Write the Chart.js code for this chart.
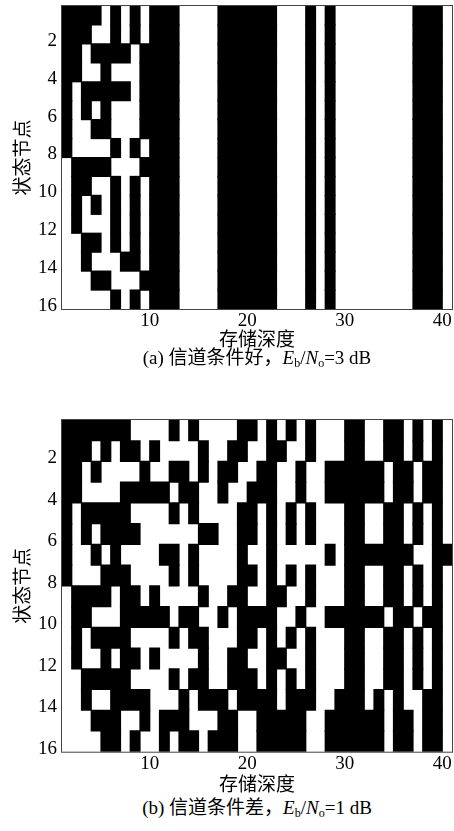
<!DOCTYPE html>
<html>
<head>
<meta charset="utf-8">
<script src="https://cdn.jsdelivr.net/npm/chart.js@4.4.0/dist/chart.umd.min.js"></script>
<style>
  body { margin: 0; background: #fff; width: 454px; height: 831px; position: relative; overflow: hidden; }
  canvas { position: absolute; left: 0; }
  .cap {
    position: absolute; left: 257px; transform: translateX(-50%);
    white-space: nowrap; font-family: "Liberation Serif", "Noto Sans CJK SC", serif;
    font-size: 19px; line-height: 22px; color: #000;
  }
  .cap sub { font-size: 12px; vertical-align: -3px; font-style: normal; }
</style>
</head>
<body>
<canvas id="good" width="454" height="350" style="top:0"></canvas>
<canvas id="bad" width="454" height="385" style="top:410px"></canvas>
<div class="cap" style="top:347px">(a) 信道条件好，<i>E</i><sub>b</sub>/<i>N</i><sub>o</sub>=3 dB</div>
<div class="cap" style="top:797px">(b) 信道条件差，<i>E</i><sub>b</sub>/<i>N</i><sub>o</sub>=1 dB</div>
<script>
// tick labels
const depthTicks = [10, 20, 30, 40];
const stateTicks = [2, 4, 6, 8, 10, 12, 14, 16];

// survivor path memory, one string per state node, 40 depths (1 = black)
const goodChannel = [
  "1111010101 1100001111 1100010100 0000001110",
  "1110010101 1100001111 1100010100 0000001110",
  "1101111011 1100001111 1100010100 0000001110",
  "1100100011 1100001111 1100010100 0000001110",
  "1011111011 1100001111 1100010100 0000001110",
  "1010100011 1100001111 1100010100 0000001110",
  "1001100011 1100001111 1100010100 0000001110",
  "1000010101 1100001111 1100010100 0000001110",
  "0111100011 1100001111 1100010100 0000001110",
  "0110010101 1100001111 1100010100 0000001110",
  "0101010101 1100001111 1100010100 0000001110",
  "0100010101 1100001111 1100010100 0000001110",
  "0011010101 1100001111 1100010100 0000001110",
  "0010001101 1100001111 1100010100 0000001110",
  "0001100011 1100001111 1100010100 0000001110",
  "0000010101 1100001111 1100010100 0000001110"
];

const badChannel = [
  "1111111000 0101000011 0101010001 1001101010",
  "1110101101 0000100110 0110010001 1001101010",
  "1101000010 0110101100 1100100111 1110110110",
  "1100001111 1011001001 1100100111 1110110110",
  "1011111000 0101000011 0101010001 1001101010",
  "1010111100 0000110011 0101010001 1001101010",
  "1001010000 1101000010 0100000101 1111110011",
  "1000111000 0101000011 0101010001 1001101010",
  "0111101101 0000100110 0110010001 1001101010",
  "0110001111 1011001011 1100100111 1110110110",
  "0101111000 0101100011 0101010001 1001101010",
  "0100101101 0000100110 0110010001 1001101010",
  "0011111000 0101100111 0101010001 1001101010",
  "0010011110 0010111011 1101110011 1010100110",
  "0001110010 1110001100 1111100111 1110110110",
  "0000110100 1011011100 1111100111 1110110110"
];

const serif = "'Liberation Serif', 'Noto Sans CJK SC', serif";
const cjk = "'Noto Sans CJK SC', sans-serif";

// merge neighbouring black cells of a row into one floating bar
function runsFrom(rows) {
  const bars = [];
  rows.forEach((row, r) => {
    const cells = row.replace(/ /g, "");
    let c = 0;
    while (c < cells.length) {
      if (cells[c] === "1") {
        let e = c;
        while (e < cells.length && cells[e] === "1") e++;
        bars.push({ x: [c + 1, e + 1], y: r + 0.5 });
        c = e;
      } else {
        c++;
      }
    }
  });
  return bars;
}

// box round the plot area
const frame = {
  id: "frame",
  afterDatasetsDraw(chart) {
    const a = chart.chartArea;
    const ctx = chart.ctx;
    ctx.save();
    ctx.strokeStyle = "#444";
    ctx.lineWidth = 1;
    ctx.strokeRect(a.left - 0.5, a.top - 0.5, a.right - a.left + 1, a.bottom - a.top + 1);
    ctx.restore();
  }
};

function makeChart(id, rows, padTop, axisHeight) {
  new Chart(document.getElementById(id), {
    type: "bar",
    data: {
      datasets: [{
        data: runsFrom(rows),
        backgroundColor: "#000",
        borderWidth: 0,
        inflateAmount: 0.6,
        barPercentage: 1,
        categoryPercentage: 1
      }]
    },
    options: {
      indexAxis: "y",
      responsive: false,
      animation: false,
      layout: { padding: { top: padTop, right: 2, left: 0, bottom: 0 } },
      plugins: { legend: { display: false }, tooltip: { enabled: false } },
      scales: {
        x: {
          type: "linear",
          min: 1,
          max: 41,
          afterBuildTicks: (s) => { s.ticks = depthTicks.map((v) => ({ value: v })); },
          afterFit: (s) => { s.height = axisHeight; s.paddingLeft = 0; s.paddingRight = 0; },
          grid: { display: false, drawTicks: false },
          border: { display: false },
          ticks: { padding: 1, color: "#000", font: { family: serif, size: 19 } },
          title: {
            display: true,
            text: "存储深度",
            color: "#000",
            padding: { top: 0, bottom: 0 },
            font: { family: cjk, size: 19 }
          }
        },
        y: {
          type: "linear",
          reverse: true,
          offset: false,
          min: 0,
          max: 16,
          afterBuildTicks: (s) => { s.ticks = stateTicks.map((v) => ({ value: v })); },
          afterFit: (s) => { s.width = 62; s.paddingTop = 0; s.paddingBottom = 0; },
          grid: { display: false, drawTicks: false, offset: false },
          border: { display: false },
          ticks: { padding: 5, labelOffset: -3, color: "#000", font: { family: serif, size: 19 } },
          title: {
            display: true,
            text: "状态节点",
            color: "#000",
            padding: { top: 10, bottom: 0 },
            font: { family: cjk, size: 19 }
          }
        }
      }
    },
    plugins: [frame]
  });
}

makeChart("good", goodChannel, 6, 41);
makeChart("bad", badChannel, 10, 43.3);
</script>
</body>
</html>
